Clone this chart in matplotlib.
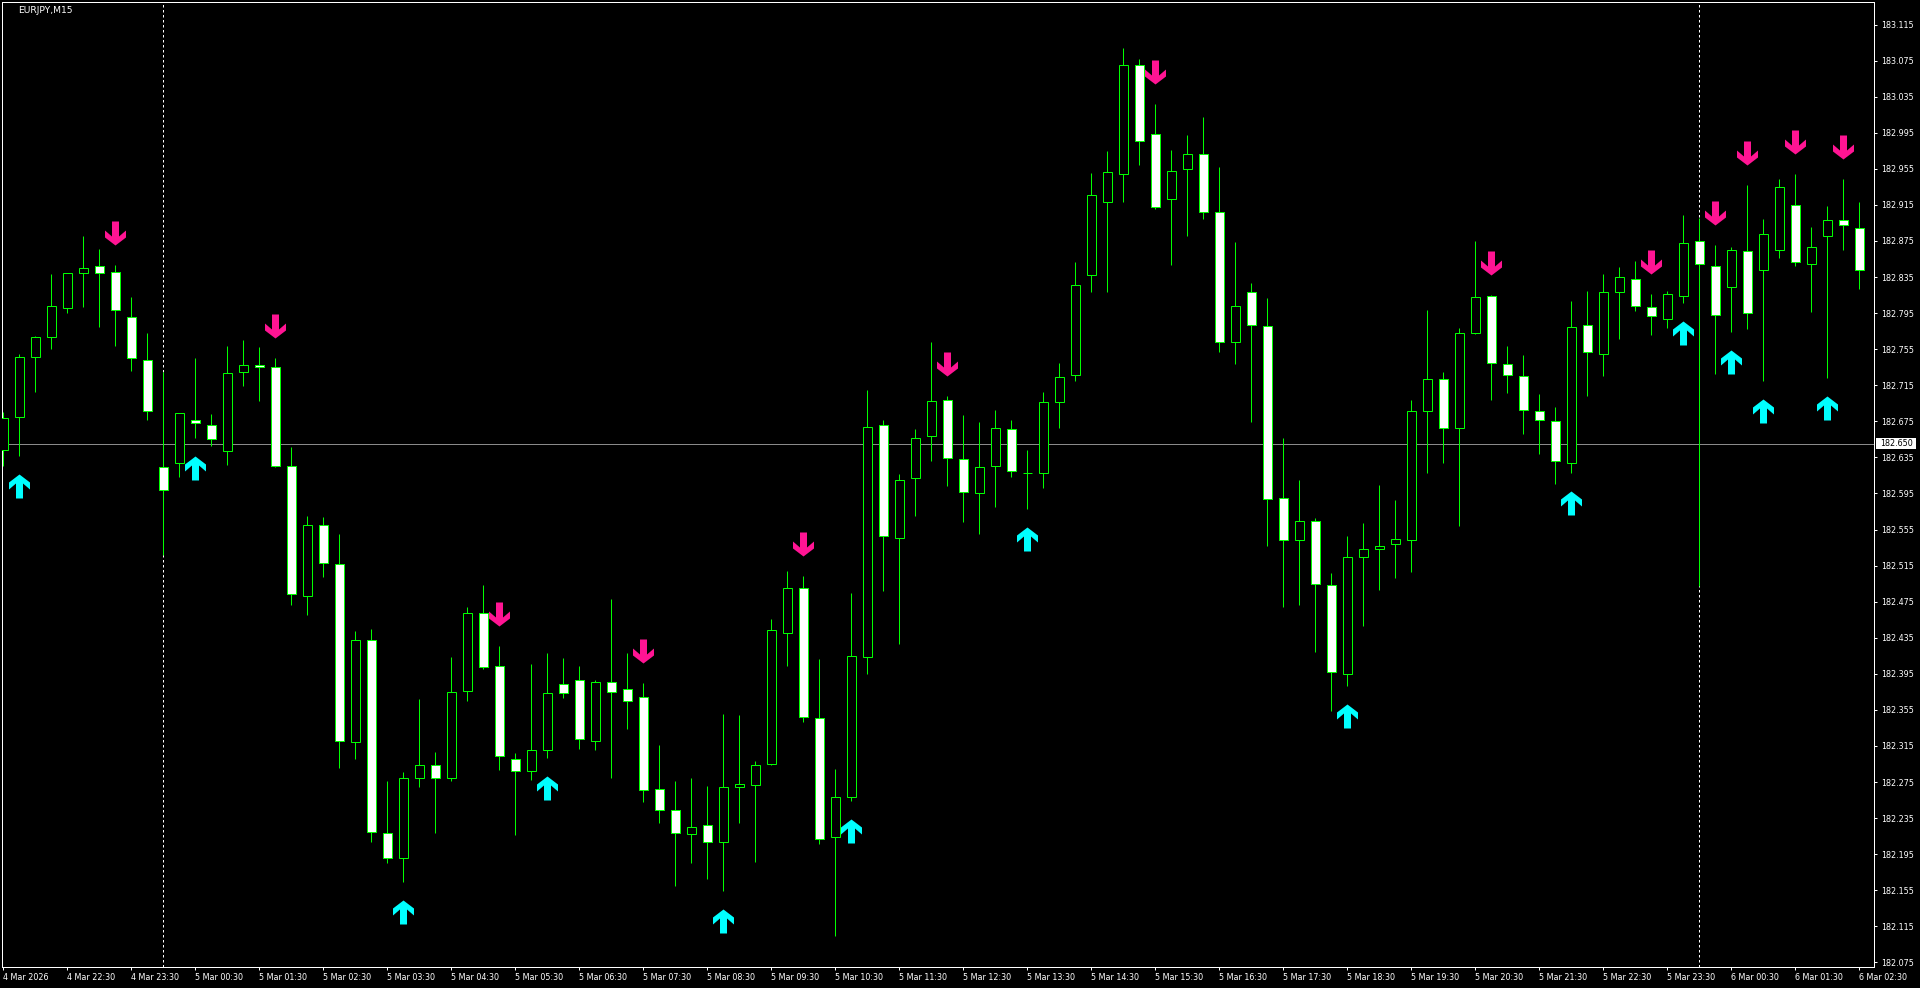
import numpy as np
import pandas as pd
import matplotlib
matplotlib.use('Agg')
from matplotlib import pyplot as plt
from matplotlib.path import Path
from matplotlib.transforms import offset_copy, blended_transform_factory
import matplotlib.patches as patches

# EURJPY M15 candles, 4 Mar 21:30 .. 6 Mar 02:30
start_time = '2026-03-04 21:30'

opens = [182.643, 182.680, 182.746, 182.769, 182.801, 182.839, 182.847, 182.841, 182.791, 182.743,
         182.624, 182.629, 182.676, 182.671, 182.642, 182.730, 182.738, 182.735, 182.626, 182.481,
         182.560, 182.517, 182.319, 182.432, 182.219, 182.191, 182.280, 182.294, 182.280, 182.376,
         182.462, 182.404, 182.301, 182.287, 182.311, 182.384, 182.388, 182.320, 182.386, 182.378,
         182.369, 182.267, 182.244, 182.217, 182.227, 182.209, 182.269, 182.272, 182.295, 182.440,
         182.490, 182.346, 182.214, 182.258, 182.414, 182.671, 182.546, 182.612, 182.659, 182.699,
         182.633, 182.595, 182.625, 182.667, 182.618, 182.618, 182.696, 182.726, 182.837, 182.918,
         182.949, 183.070, 182.994, 182.922, 182.955, 182.971, 182.907, 182.763, 182.818, 182.781,
         182.590, 182.543, 182.565, 182.494, 182.395, 182.525, 182.533, 182.539, 182.543, 182.687,
         182.722, 182.668, 182.773, 182.814, 182.739, 182.725, 182.687, 182.675, 182.629, 182.782,
         182.750, 182.818, 182.833, 182.802, 182.788, 182.814, 182.875, 182.847, 182.824, 182.864,
         182.843, 182.865, 182.915, 182.849, 182.880, 182.898, 182.889]
highs = [182.685, 182.750, 182.770, 182.838, 182.840, 182.880, 182.866, 182.848, 182.813, 182.773,
         182.730, 182.684, 182.745, 182.683, 182.759, 182.765, 182.757, 182.745, 182.647, 182.570,
         182.569, 182.550, 182.443, 182.445, 182.276, 182.286, 182.367, 182.308, 182.414, 182.469,
         182.494, 182.426, 182.307, 182.406, 182.418, 182.413, 182.404, 182.388, 182.478, 182.418,
         182.385, 182.316, 182.276, 182.280, 182.271, 182.351, 182.349, 182.298, 182.456, 182.509,
         182.504, 182.411, 182.290, 182.485, 182.710, 182.676, 182.617, 182.666, 182.763, 182.703,
         182.682, 182.674, 182.688, 182.677, 182.643, 182.707, 182.740, 182.852, 182.950, 182.975,
         183.089, 183.077, 183.027, 182.976, 182.993, 183.012, 182.957, 182.874, 182.828, 182.812,
         182.657, 182.610, 182.568, 182.507, 182.548, 182.562, 182.604, 182.588, 182.699, 182.798,
         182.730, 182.778, 182.875, 182.815, 182.759, 182.749, 182.705, 182.691, 182.808, 182.819,
         182.838, 182.846, 182.853, 182.816, 182.819, 182.904, 182.900, 182.870, 182.868, 182.937,
         182.899, 182.944, 182.949, 182.891, 182.914, 182.944, 182.918]
lows = [182.625, 182.637, 182.707, 182.755, 182.795, 182.802, 182.780, 182.758, 182.731, 182.677,
        182.527, 182.613, 182.657, 182.648, 182.627, 182.714, 182.698, 182.624, 182.471, 182.460,
        182.502, 182.291, 182.301, 182.209, 182.185, 182.164, 182.270, 182.219, 182.276, 182.365,
        182.400, 182.288, 182.216, 182.277, 182.302, 182.368, 182.312, 182.311, 182.279, 182.334,
        182.253, 182.230, 182.160, 182.185, 182.168, 182.154, 182.230, 182.186, 182.294, 182.404,
        182.342, 182.206, 182.104, 182.254, 182.395, 182.487, 182.428, 182.570, 182.631, 182.603,
        182.563, 182.550, 182.580, 182.613, 182.578, 182.601, 182.668, 182.720, 182.818, 182.818,
        182.918, 182.959, 182.911, 182.848, 182.880, 182.899, 182.752, 182.739, 182.674, 182.537,
        182.469, 182.471, 182.419, 182.354, 182.381, 182.448, 182.488, 182.501, 182.508, 182.618,
        182.629, 182.559, 182.772, 182.699, 182.706, 182.661, 182.639, 182.606, 182.618, 182.703,
        182.725, 182.766, 182.797, 182.771, 182.778, 182.806, 182.492, 182.728, 182.774, 182.777,
        182.720, 182.856, 182.847, 182.796, 182.723, 182.865, 182.822]
closes = [182.679, 182.746, 182.769, 182.803, 182.840, 182.845, 182.839, 182.798, 182.745, 182.687,
          182.599, 182.684, 182.673, 182.655, 182.729, 182.737, 182.735, 182.625, 182.483, 182.560,
          182.518, 182.320, 182.433, 182.220, 182.191, 182.280, 182.294, 182.280, 182.375, 182.462,
          182.403, 182.304, 182.287, 182.311, 182.374, 182.374, 182.323, 182.386, 182.375, 182.365,
          182.266, 182.244, 182.219, 182.225, 182.209, 182.269, 182.273, 182.294, 182.444, 182.490,
          182.347, 182.212, 182.258, 182.415, 182.669, 182.548, 182.610, 182.657, 182.698, 182.634,
          182.597, 182.624, 182.668, 182.620, 182.618, 182.696, 182.724, 182.826, 182.926, 182.951,
          183.070, 182.986, 182.913, 182.953, 182.971, 182.907, 182.763, 182.803, 182.782, 182.589,
          182.543, 182.564, 182.495, 182.397, 182.524, 182.533, 182.537, 182.545, 182.687, 182.722,
          182.668, 182.773, 182.813, 182.740, 182.726, 182.688, 182.676, 182.631, 182.780, 182.752,
          182.818, 182.835, 182.803, 182.792, 182.816, 182.873, 182.850, 182.793, 182.865, 182.795,
          182.883, 182.935, 182.852, 182.868, 182.898, 182.893, 182.843]

# indicator signals (candle index)
buy_signals = [1, 12, 25, 34, 45, 53, 64, 84, 98, 105, 108, 110, 114]
sell_signals = [7, 17, 31, 40, 50, 59, 72, 93, 103, 107, 109, 112, 115]

bid_price = 182.650
price_ticks = [round(182.075 + 0.04 * k, 3) for k in range(27)]
time_labels = (['4 Mar 2026', '4 Mar 22:30', '4 Mar 23:30']
               + ['5 Mar {:02d}:30'.format(h) for h in range(24)]
               + ['6 Mar 00:30', '6 Mar 01:30', '6 Mar 02:30'])

W, H = 1920, 988
PX = 0.72  # one pixel in points at dpi 100

fig = plt.figure(figsize=(W / 100, H / 100), dpi=100, facecolor='black')
ax = fig.add_axes([2 / W, 21 / H, 1872 / W, 965 / H])
ax.set_facecolor('black')

o = np.array(opens)
c = np.array(closes)
hi = np.array(highs)
lo = np.array(lows)
x = np.arange(len(o))
times = pd.date_range(start_time, periods=len(o), freq='15min')

# day separators
for i, t in enumerate(times):
    if t.hour == 0 and t.minute == 0:
        ax.axvline(i, color='white', lw=PX, ls=(0, (2.5, 2.5)), zorder=1)

ax.axhline(bid_price, color='#8a8a8a', lw=PX, zorder=1)

# candles
ax.vlines(x, lo, hi, color='#00ff00', lw=PX, zorder=2)
bull = c >= o
ax.bar(x, np.abs(c - o), bottom=np.minimum(o, c), width=0.6,
       color=np.where(bull, 'black', 'white'), edgecolor='#00ff00', lw=PX, zorder=3)

# arrow markers
up_verts = [(0, 12), (10.5, 4), (10.5, -3), (3.5, 3), (3.5, -12), (-3.5, -12),
            (-3.5, 3), (-10.5, -3), (-10.5, 4), (0, 12)]
up_marker = Path(up_verts, closed=True)
down_marker = Path([(vx, -vy) for vx, vy in up_verts], closed=True)
msize = (24 * PX) ** 2

tr_up = offset_copy(ax.transData, fig=fig, x=0, y=-30, units='dots')
tr_dn = offset_copy(ax.transData, fig=fig, x=0, y=32, units='dots')
ax.scatter(x[buy_signals], lo[buy_signals], marker=up_marker, s=msize, c='#00ffff',
           linewidths=0, transform=tr_up, zorder=4)
ax.scatter(x[sell_signals], hi[sell_signals], marker=down_marker, s=msize, c='#ff1493',
           linewidths=0, transform=tr_dn, zorder=4)

ax.set_xlim((2 - 3.3) / 16, (1874 - 3.3) / 16)
ax.set_ylim(182.0699, 183.140)

for s in ax.spines.values():
    s.set_color('white')
    s.set_linewidth(PX)

ax.yaxis.tick_right()
ax.set_yticks(price_ticks)
ax.set_yticklabels(['{:.3f}'.format(p) for p in price_ticks])
ax.tick_params(axis='y', direction='out', length=2.5, width=PX, colors='white',
               labelsize=5.8, pad=2.5)

ax.set_xticks(x[::4])
ax.set_xticklabels(time_labels)
ax.tick_params(axis='x', direction='out', length=2.5, width=PX, colors='white',
               labelsize=5.8, pad=1.5)
for lbl in ax.get_xticklabels():
    lbl.set_horizontalalignment('left')

# bid price tag on the right scale
btr = blended_transform_factory(ax.transAxes, ax.transData)
tag = patches.Rectangle((1 + 1.5 / 1872, bid_price - 5 / 901.8), 40.5 / 1872, 10.5 / 901.8,
                        transform=btr, facecolor='white', edgecolor='none', clip_on=False, zorder=5)
ax.add_patch(tag)
ax.text(1 + 6 / 1872, bid_price, '{:.3f}'.format(bid_price), transform=btr, color='black',
        fontsize=5.8, ha='left', va='center', clip_on=False, zorder=6)

fig.text(18 / W, 1 - 10.5 / H, 'EURJPY,M15', color='white', fontsize=6.6, ha='left', va='center')

fig.savefig('out.png', dpi=100, facecolor='black')
